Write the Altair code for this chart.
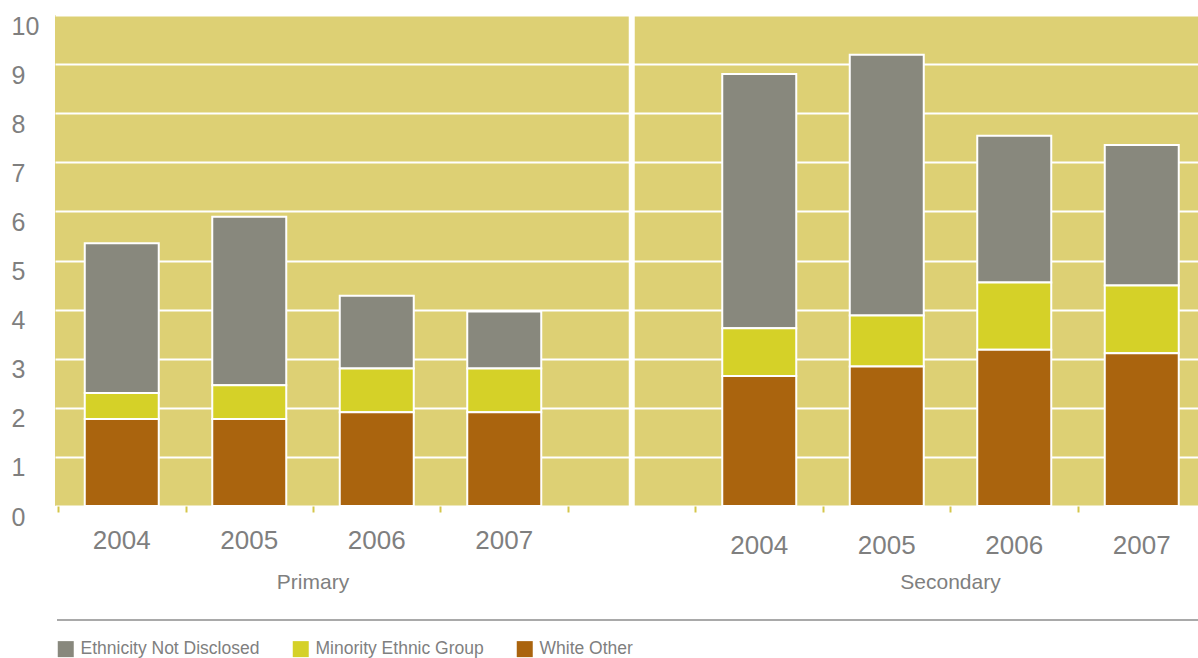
import altair as alt
import pandas as pd

# ---- data ----
groups = ["Primary", "Secondary"]
years = ["2004", "2005", "2006", "2007"]
series = ["Ethnicity Not Disclosed", "Minority Ethnic Group", "White Other"]

primary_not_disclosed = [3.05, 3.43, 1.48, 1.16]
primary_minority = [0.53, 0.69, 0.89, 0.89]
primary_white_other = [1.77, 1.77, 1.91, 1.91]

secondary_not_disclosed = [5.18, 5.31, 2.99, 2.86]
secondary_minority = [0.97, 1.04, 1.37, 1.38]
secondary_white_other = [2.65, 2.84, 3.18, 3.11]

y_ticks = list(range(0, 11))
colors = ["#88887D", "#D5D128", "#AA640E"]

# ---- build tables ----
values = {
    "Primary": [primary_not_disclosed, primary_minority, primary_white_other],
    "Secondary": [secondary_not_disclosed, secondary_minority, secondary_white_other],
}
slots_per_group = len(years) + 1  # one empty slot between groups
rows, labels = [], []
for gi, g in enumerate(groups):
    for yi, yr in enumerate(years):
        slot = gi * slots_per_group + yi + 0.5
        labels.append({"group": g, "year": yr, "slot": slot})
        for si, s in enumerate(series):
            rows.append({"group": g, "year": yr, "slot": slot, "series": s,
                         "value": values[g][si][yi], "stack_order": len(series) - si})
df = pd.DataFrame(rows)
df_lab = pd.DataFrame(labels)
df_grp = pd.DataFrame([{"group": g, "slot": gi * slots_per_group + len(years) / 2}
                       for gi, g in enumerate(groups)])
df_sep = pd.DataFrame([{"slot": len(years) + 0.5}])

W, H = 1143, 491
BAND = 127.5
xscale = alt.Scale(domain=[-3 / BAND, (W - 3) / BAND], nice=False, zero=False, padding=0)
x_axis = alt.Axis(values=list(range(2 * slots_per_group - 1)), labels=False, title=None,
                  domain=False, grid=False, tickColor="#D4C64A", tickSize=6, tickWidth=2)
yscale = alt.Scale(domain=[0, 10], nice=False, padding=0)
GRAY = "#7F7F7F"
FONT = "Liberation Sans"

sep = alt.Chart(df_sep).mark_rule(color="white", strokeWidth=6).encode(
    x=alt.X("slot:Q", scale=xscale, axis=x_axis),
    y=alt.value(0), y2=alt.value(H))

bars = alt.Chart(df).mark_bar(size=74, stroke="white", strokeWidth=2).encode(
    x=alt.X("slot:Q", scale=xscale, axis=x_axis),
    y=alt.Y("value:Q", stack="zero", scale=yscale,
            axis=alt.Axis(values=y_ticks, title=None, domain=False, ticks=False,
                          grid=True, gridColor="white", gridWidth=2,
                          labelAlign="left", labelPadding=44, labelOffset=11,
                          labelFontSize=25, labelColor=GRAY, labelFont=FONT)),
    color=alt.Color("series:N", scale=alt.Scale(domain=series, range=colors),
                    legend=alt.Legend(orient="none", legendX=2, legendY=625,
                                      direction="horizontal", title=None,
                                      symbolType="square", symbolSize=256,
                                      symbolStrokeWidth=0, labelFontSize=17.5,
                                      labelColor=GRAY, labelFont=FONT, labelLimit=500,
                                      columnPadding=32, labelOffset=6, padding=0)),
    order=alt.Order("stack_order:Q", sort="ascending"),
)

year_p = alt.Chart(df_lab).transform_filter(alt.datum.group == "Primary").mark_text(
    fontSize=26, color=GRAY, font=FONT, baseline="middle").encode(
    x=alt.X("slot:Q", scale=xscale, axis=x_axis), y=alt.value(H + 35), text="year:N")
year_s = alt.Chart(df_lab).transform_filter(alt.datum.group == "Secondary").mark_text(
    fontSize=26, color=GRAY, font=FONT, baseline="middle").encode(
    x=alt.X("slot:Q", scale=xscale, axis=x_axis), y=alt.value(H + 40), text="year:N")
grp = alt.Chart(df_grp).mark_text(fontSize=21, color=GRAY, font=FONT, baseline="middle").encode(
    x=alt.X("slot:Q", scale=xscale, axis=x_axis), y=alt.value(H + 77), text="group:N")

line = alt.Chart(df_sep).mark_rule(color="#8C8C8C", strokeWidth=1.5).encode(
    x=alt.value(2), x2=alt.value(W), y=alt.value(605))

chart = alt.layer(sep, bars, year_p, year_s, grp, line).properties(
    width=W, height=H,
    autosize=alt.AutoSizeParams(type="none"),
    padding={"left": 55, "top": 15, "right": 0, "bottom": 152},
).configure_view(fill="#DDD074", strokeWidth=0)

chart.save("out.html", embed_options={"renderer": "svg", "actions": False})
